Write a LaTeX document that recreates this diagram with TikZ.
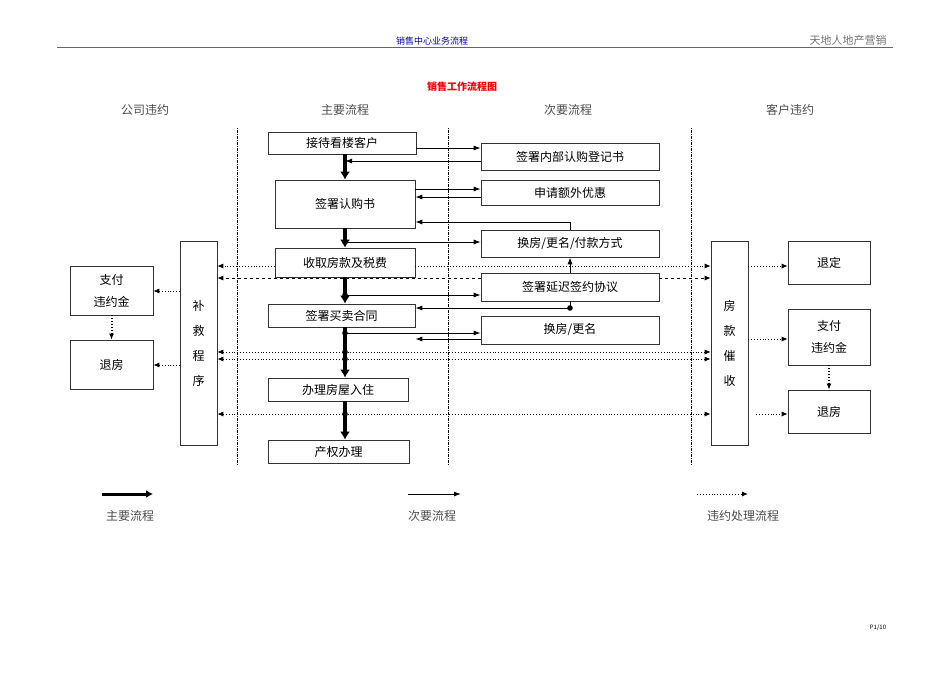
\documentclass[tikz,border=0pt]{standalone}
\usepackage{fontspec}
\setmainfont{Noto Sans CJK SC}
\usetikzlibrary{arrows.meta}
\begin{document}
\begin{tikzpicture}[x=1pt,y=-1pt,
  box/.style={draw=black!80,line width=0.6pt,inner sep=0pt,font=\fontsize{12}{14}\selectfont,align=center},
  sarr/.style={line width=0.9pt,-{Latex[length=7pt,width=5pt]}},
  barr/.style={line width=3.2pt,-{Latex[length=8pt,width=10pt]}},
  dot/.style={line width=0.9pt,dotted,-{Latex[length=6pt,width=5pt]}},
  dotb/.style={line width=0.9pt,dotted,{Latex[length=6pt,width=5pt]}-{Latex[length=6pt,width=5pt]}},
  dsh/.style={line width=0.9pt,dashed,-{Latex[length=6pt,width=5pt]}},
  vsep/.style={line width=1pt,dash pattern=on 1pt off 1pt on 3pt off 1pt},
  hd/.style={text=black!70,font=\fontsize{12}{14}\selectfont}]
\useasboundingbox (0,0) rectangle (950,672);
% header
\draw[black!60,line width=0.5pt] (57,47) -- (893,47);
\node[text=blue!70!black,font=\fontsize{9}{11}\selectfont] (h1) at (432,41) {销售中心业务流程};
\node[text=black!55,font=\fontsize{11}{13}\selectfont] (h2) at (848,40) {天地人地产营销};
\node[text=red,font=\bfseries\fontsize{10}{12}\selectfont] (t) at (462,87) {销售工作流程图};
\node[hd] (c1) at (145,110) {公司违约};
\node[hd] (c2) at (345,110) {主要流程};
\node[hd] (c3) at (568,110) {次要流程};
\node[hd] (c4) at (790,110) {客户违约};
\draw[vsep] (237,128) -- (237,465);
\draw[vsep] (448,128) -- (448,465);
\draw[vsep] (691,128) -- (691,465);
% boxes
\node[box,minimum width=148pt,minimum height=22pt] (A) at (342,143) {接待看楼客户};
\node[box,minimum width=178pt,minimum height=27pt] (B) at (570,156.5) {签署内部认购登记书};
\node[box,minimum width=140pt,minimum height=48pt] (C) at (345,204) {签署认购书};
\node[box,minimum width=178pt,minimum height=25pt] (D) at (570,192.5) {申请额外优惠};
\node[box,minimum width=178pt,minimum height=27pt] (E) at (570,243.5) {换房/更名/付款方式};
\node[box,minimum width=140pt,minimum height=29pt] (F) at (345,262.5) {收取房款及税费};
\node[box,minimum width=178pt,minimum height=28pt] (G) at (570,287) {签署延迟签约协议};
\node[box,minimum width=147pt,minimum height=23pt] (H) at (341.5,315.5) {签署买卖合同};
\node[box,minimum width=178pt,minimum height=28pt] (I) at (570,330) {换房/更名};
\node[box,minimum width=140pt,minimum height=23pt] (J) at (338,389.5) {办理房屋入住};
\node[box,minimum width=141pt,minimum height=23pt] (K) at (338.5,451.5) {产权办理};
\node[box,minimum width=37pt,minimum height=204pt,font=\fontsize{12}{25}\selectfont] (L) at (198.5,343) {补\\救\\程\\序};
\node[box,minimum width=83pt,minimum height=49pt,font=\fontsize{12}{22}\selectfont] (M) at (111.5,290.5) {支付\\违约金};
\node[box,minimum width=83pt,minimum height=49pt] (N) at (111.5,364.5) {退房};
\node[box,minimum width=37pt,minimum height=204pt,font=\fontsize{12}{25}\selectfont] (O) at (729.5,343) {房\\款\\催\\收};
\node[box,minimum width=82pt,minimum height=43pt] (P) at (829,262.5) {退定};
\node[box,minimum width=82pt,minimum height=56pt,font=\fontsize{12}{22}\selectfont] (Q) at (829,337) {支付\\违约金};
\node[box,minimum width=82pt,minimum height=43pt] (R) at (829,411.5) {退房};
% spine coordinates
\coordinate (s0) at (345,161);
\coordinate (s1) at (345,242);
\coordinate (s2) at (345,295);
\coordinate (s3) at (345,333);
\coordinate (s4) at (345,352);
\coordinate (s5) at (345,359);
\coordinate (s6) at (345,414);
% spine
\draw[barr] (C.north |- A.south) -- (C.north);
\draw[barr] (C.south) -- (F.north);
\draw[barr] (F.south) -- (F.south |- H.north);
\draw[barr] (F.south |- H.south) -- (F.south |- J.north);
\draw[barr] (F.south |- J.south) -- (F.south |- K.north);
\foreach \p in {s1,s2,s3,s4,s5,s6} \fill (\p) circle (2.8pt);
% secondary
\coordinate (a1) at ([yshift=-5pt]A.east);
\draw[sarr] (a1) -- (a1 -| B.west);
\coordinate (b1) at ([yshift=-4.5pt]B.west);
\draw[sarr] (b1) -- (s0);
\coordinate (d1) at ([yshift=3.5pt]D.west);
\coordinate (d2) at ([yshift=-4.5pt]D.west);
\draw[sarr] (d1 -| C.east) -- (d1);
\draw[sarr] (d2) -- (d2 -| C.east);
\coordinate (e1) at (570,222);
\draw[line width=0.9pt] (E.north) -- (e1);
\draw[sarr] (e1) -- (e1 -| C.east);
\draw[sarr] (s1) -- (s1 -| E.west);
\draw[sarr] (s2) -- (s2 -| G.west);
\draw[sarr] (s3) -- (s3 -| I.west);
\draw[sarr] (G.north) -- (E.south);
\coordinate (g1) at (570,308);
\draw[line width=0.9pt] (G.south) -- (g1);
\fill (g1) circle (2.8pt);
\draw[sarr] (g1) -- (g1 -| H.east);
\coordinate (i1) at ([yshift=-9pt]I.west);
\draw[sarr] (i1) -- (i1 -| H.east);
% breach lines
\coordinate (f1) at (345,266);
\draw[dot] (f1 -| F.west) -- (f1 -| L.east);
\draw[dot] (f1 -| F.east) -- (f1 -| O.west);
\coordinate (g2) at (570,278);
\draw[dsh] (g2 -| G.west) -- (g2 -| L.east);
\draw[dsh] (g2 -| G.east) -- (g2 -| O.west);
\draw[dotb] (s4 -| L.east) -- (s4 -| O.west);
\draw[dotb] (s5 -| L.east) -- (s5 -| O.west);
\draw[dotb] (s6 -| L.east) -- (s6 -| O.west);
\coordinate (l1) at (180,291);
\coordinate (l2) at (180,365);
\draw[dot] (l1) -- (l1 -| M.east);
\draw[dot] (l2) -- (l2 -| N.east);
\draw[dot,line width=2pt] (M.south) -- (N.north);
\draw[dot] (f1 -| O.east) -- (f1 -| P.west);
\coordinate (o1) at (748,339);
\draw[dot] (o1) -- (o1 -| Q.west);
\coordinate (o2) at (756,414);
\draw[dot] (o2) -- (o2 -| R.west);
\draw[dot,line width=2pt] (Q.south) -- (R.north);
% legend
\coordinate (la) at (102,494); \coordinate (lb) at (153,494);
\coordinate (lc) at (408,494); \coordinate (ld) at (461,494);
\coordinate (le) at (697,494); \coordinate (lf) at (748,494);
\draw[line width=3pt,-{Latex[length=7pt,width=8pt]}] (la) -- (lb);
\draw[sarr] (lc) -- (ld);
\draw[dot] (le) -- (lf);
\node[hd] (g1t) at (130,516) {主要流程};
\node[hd] (g2t) at (432,516) {次要流程};
\node[hd] (g3t) at (743,516) {违约处理流程};
\node[font=\fontsize{6}{7}\selectfont] (pg) at (878,628) {P1/10};
\end{tikzpicture}
\end{document}
